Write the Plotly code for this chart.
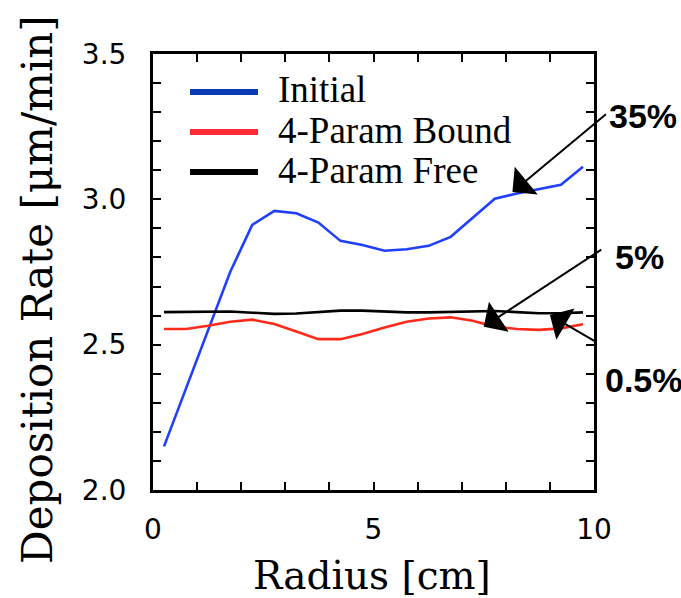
import plotly.graph_objects as go

radius = [0.25, 0.75, 1.25, 1.75, 2.25, 2.75, 3.25, 3.75, 4.25, 4.75,
          5.25, 5.75, 6.25, 6.75, 7.25, 7.75, 8.25, 8.75, 9.25, 9.75]
initial = [2.15, 2.35, 2.55, 2.75, 2.912, 2.96, 2.952, 2.92, 2.857, 2.843,
           2.823, 2.828, 2.840, 2.871, 2.937, 3.002, 3.02, 3.035, 3.05, 3.112]
bound = [2.554, 2.554, 2.565, 2.579, 2.586, 2.571, 2.545, 2.519, 2.519, 2.537,
         2.559, 2.579, 2.590, 2.594, 2.582, 2.562, 2.554, 2.551, 2.556, 2.570]
free = [2.612, 2.613, 2.614, 2.614, 2.610, 2.606, 2.607, 2.612, 2.617, 2.617,
        2.613, 2.611, 2.611, 2.612, 2.615, 2.616, 2.612, 2.608, 2.608, 2.611]

series_names = ["Initial", "4-Param Bound", "4-Param Free"]
series_colors = ["#2040ff", "#ff2a1a", "#000000"]
legend_colors = ["#0a3cb4", "#ff2a36", "#000000"]

# arrow annotations: label, tip x, tip y
pct_labels = ["35%", "5%", "0.5%"]
pct_tip_x = [8.15, 7.5, 9.0]
pct_tip_y = [3.025, 2.562, 2.602]

L, R, T, B = 153, 87, 54, 108
W, H = 681, 598
PW, PH = W - L - R, H - T - B

def px(x):
    return (x - L) / PW

def py(y):
    return (H - B - y) / PH

fig = go.Figure()
for name, ys, col in zip(series_names, [initial, bound, free], series_colors):
    fig.add_trace(go.Scatter(x=radius, y=ys, mode="lines", name=name,
                             line=dict(color=col, width=2.6), showlegend=False))

# manual legend
leg_y = [92, 132, 172]
for name, col, yy in zip(series_names, legend_colors, leg_y):
    fig.add_shape(type="line", xref="paper", yref="paper",
                  x0=px(190), x1=px(258), y0=py(yy), y1=py(yy),
                  line=dict(color=col, width=6))
    fig.add_annotation(xref="paper", yref="paper", x=px(276), y=py(yy - 2),
                       text=name, showarrow=False, xanchor="left", yanchor="middle",
                       font=dict(family="Liberation Serif", size=37, color="black"))

# arrows
tails = [(95, -79), (119, -78), (48, 28)]
for tx, ty, (ax, ay) in zip(pct_tip_x, pct_tip_y, tails):
    fig.add_annotation(x=tx, y=ty, xref="x", yref="y", ax=ax, ay=ay,
                       axref="pixel", ayref="pixel", text="", showarrow=True,
                       arrowhead=1, arrowsize=3.0, arrowwidth=2, arrowcolor="black",
                       standoff=0)

text_pos = [(607, 116, "left"), (613, 257, "left"), (603, 380, "left")]
for lab, (x, y, anc) in zip(pct_labels, text_pos):
    fig.add_annotation(xref="paper", yref="paper", x=px(x), y=py(y), text="<b>%s</b>" % lab,
                       showarrow=False, xanchor=anc, yanchor="middle",
                       font=dict(family="Liberation Sans", size=34, color="black"))

# axis titles
fig.add_annotation(xref="paper", yref="paper", x=px(372), y=py(575), text="Radius [cm]",
                   showarrow=False, xanchor="center", yanchor="middle",
                   font=dict(family="DejaVu Serif", size=39, color="black"))
fig.add_annotation(xref="paper", yref="paper", x=px(37), y=py(290),
                   text="Deposition Rate [\u03bcm/min]", textangle=-90,
                   showarrow=False, xanchor="center", yanchor="middle",
                   font=dict(family="DejaVu Serif", size=42, color="black"))

axis_common = dict(showline=True, linewidth=3, linecolor="black", mirror="ticks",
                   ticks="inside", ticklen=8, tickwidth=2, tickcolor="black",
                   showgrid=False, zeroline=False,
                   tickfont=dict(family="DejaVu Sans", size=28, color="black"))

fig.update_xaxes(range=[0, 10], dtick=5, tick0=0,
                 minor=dict(dtick=1, ticks="inside", ticklen=8, tickwidth=2, tickcolor="black",
                            showgrid=False),
                 ticklabelstandoff=12, **axis_common)
fig.update_yaxes(range=[2.0, 3.5], dtick=0.5, tick0=2.0, tickformat=".1f",
                 minor=dict(dtick=0.1, ticks="inside", ticklen=8, tickwidth=2, tickcolor="black",
                            showgrid=False),
                 ticklabelstandoff=18, **axis_common)

fig.update_layout(width=W, height=H, margin=dict(l=L, r=R, t=T, b=B),
                  plot_bgcolor="white", paper_bgcolor="white", showlegend=False)

fig.write_html("out.html")
